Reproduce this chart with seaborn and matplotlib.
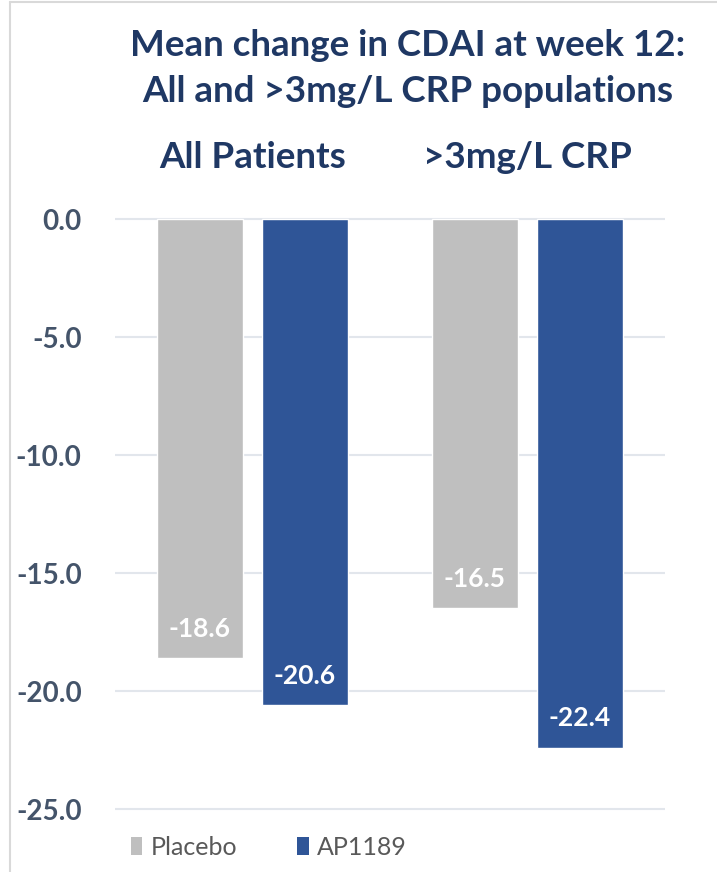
import matplotlib
matplotlib.use("Agg")
import matplotlib.pyplot as plt
from matplotlib.lines import Line2D
from matplotlib.patches import Patch
import seaborn as sns
import pandas as pd

# Chart data
groups = ["All Patients", ">3mg/L CRP"]
treatments = ["Placebo", "AP1189"]
placebo_change = [-18.6, -16.5]
ap1189_change = [-20.6, -22.4]
y_ticks = [0.0, -5.0, -10.0, -15.0, -20.0, -25.0]

colors = {"Placebo": "#BFBFBF", "AP1189": "#2F5597"}
navy = "#1F3864"
tick_color = "#44546A"

df = pd.DataFrame({
    "group": groups * 2,
    "treatment": [treatments[0]] * 2 + [treatments[1]] * 2,
    "change": placebo_change + ap1189_change,
})

sns.set_theme(style="white")
plt.rcParams["font.family"] = ["Lato", "DejaVu Sans"]

W, H = 717, 872
fig = plt.figure(figsize=(W / 100, H / 100), dpi=100)

ymin, ymax = -25.1, 0.1
px_per_unit = (809 - 219) / 25.0
ax_top = 219 - 0.1 * px_per_unit
ax_bot = 809 + 0.1 * px_per_unit
ax = fig.add_axes([115 / W, 1 - ax_bot / H, (665 - 115) / W, (ax_bot - ax_top) / H])

sns.barplot(data=df, x="group", y="change", hue="treatment", order=groups,
            hue_order=treatments, palette=colors, width=0.764, gap=0.19,
            saturation=1, legend=False, ax=ax, zorder=3)

ax.set_ylim(ymin, ymax)
ax.set_xlim(-0.5, 1.5)
ax.set_yticks(y_ticks)
ax.set_yticklabels([f"{t:.1f}" for t in y_ticks], fontsize=20, fontweight="bold",
                   color=tick_color)
ax.tick_params(axis="y", length=0, pad=24)
ax.xaxis.tick_top()
ax.set_xticks(range(len(groups)))
ax.set_xticklabels(groups, fontsize=26.5, fontweight="bold", color=navy)
ax.tick_params(axis="x", length=0, pad=31)
ax.set_xlabel("")
ax.set_ylabel("")
for s in ax.spines.values():
    s.set_visible(False)
ax.yaxis.grid(True, color="#E2E6EC", linewidth=1.5, zorder=0)
ax.xaxis.grid(False)

# Value labels inside the bar ends
for container, vals in zip(ax.containers, [placebo_change, ap1189_change]):
    for bar, v in zip(container, vals):
        ax.annotate(f"{v:.1f}", (bar.get_x() + bar.get_width() / 2, v),
                    xytext=(0, 21), textcoords="offset points",
                    ha="center", va="center", fontsize=19, fontweight="bold",
                    color="white", zorder=4)

fig.text(0.568, 1 - 46 / H, "Mean change in CDAI at week 12:", ha="center",
         va="center", fontsize=26.5, fontweight="bold", color=navy)
fig.text(0.568, 1 - 92 / H, "All and >3mg/L CRP populations", ha="center",
         va="center", fontsize=26.5, fontweight="bold", color=navy)

handles = [Patch(facecolor=colors[t], edgecolor="none") for t in treatments]
fig.legend(handles, treatments, loc="center", bbox_to_anchor=(0.375, 1 - 847 / H),
           ncol=2, frameon=False, fontsize=18, labelcolor="#595959",
           handlelength=0.45, handleheight=0.7, handletextpad=0.35,
           columnspacing=2.4)

# Outer frame lines
fig.add_artist(Line2D([10 / W, 10 / W], [0, 1 - 2 / H], color="#D9D9D9",
                      linewidth=1.5, transform=fig.transFigure))
fig.add_artist(Line2D([10 / W, 1], [1 - 2 / H, 1 - 2 / H], color="#D9D9D9",
                      linewidth=1.5, transform=fig.transFigure))

fig.savefig("out.png", dpi=100)
